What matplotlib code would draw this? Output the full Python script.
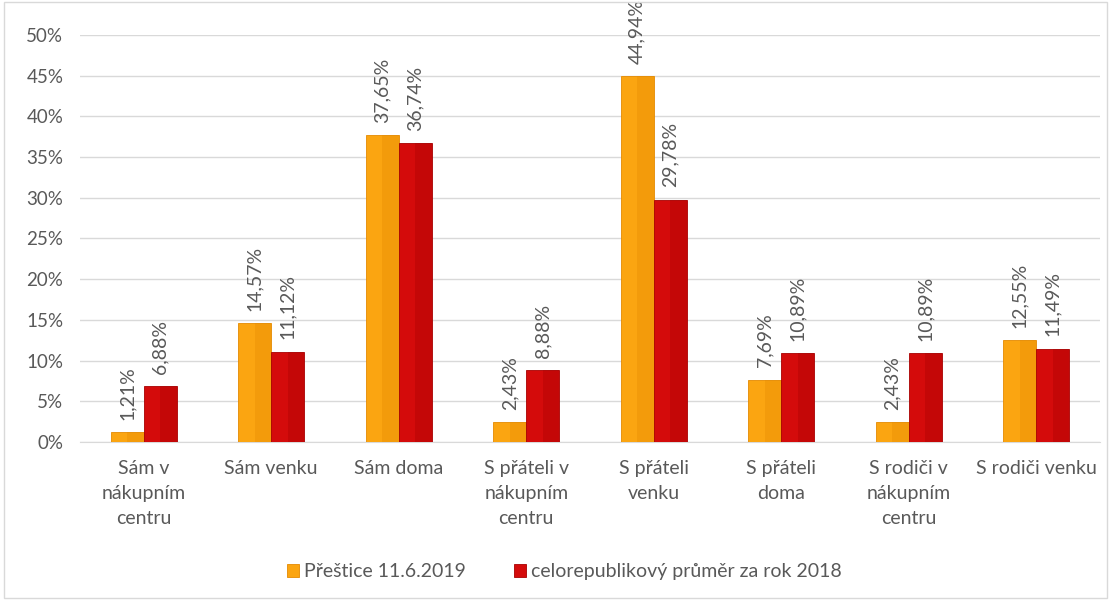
import numpy as np
import matplotlib
matplotlib.use("Agg")
import matplotlib.pyplot as plt
from matplotlib.patches import Rectangle

categories = ["Sám v\nnákupním\ncentru", "Sám venku", "Sám doma",
              "S přáteli v\nnákupním\ncentru", "S přáteli\nvenku", "S přáteli\ndoma",
              "S rodiči v\nnákupním\ncentru", "S rodiči venku"]
prestice = [1.21, 14.57, 37.65, 2.43, 44.94, 7.69, 2.43, 12.55]
celorep = [6.88, 11.12, 36.74, 8.88, 29.78, 10.89, 10.89, 11.49]
series_names = ["Přeštice 11.6.2019", "celorepublikový průměr za rok 2018"]

plt.rcParams["font.family"] = ["Lato", "DejaVu Sans"]
TXT = "#595959"

fig = plt.figure(figsize=(11.11, 6.0), dpi=100)
ax = fig.add_axes([0.072, 0.263, 0.918, 0.679])
fig.patches.append(Rectangle((0.004, 0.004), 0.992, 0.992, transform=fig.transFigure,
                             fill=False, ec="#D9D9D9", lw=1))

x = np.arange(len(categories))
w = 0.26
cols = [("#FBA511", "#E58A00"), ("#D40B0B", "#A80000")]
for k, (vals, (c, dark)) in enumerate(zip([prestice, celorep], cols)):
    xs = x + (k - 0.5) * w
    ax.bar(xs, vals, w, color=c, edgecolor=dark, lw=0.6, zorder=3, label=series_names[k])
    # darker right half for a bevelled look
    ax.bar(xs + w / 4, vals, w / 2, color=dark, alpha=0.35, lw=0, zorder=4)
    for xi, v in zip(xs, vals):
        ax.text(xi, v + 1.5, f"{v:.2f}%".replace(".", ","), rotation=90,
                ha="center", va="bottom", fontsize=14, color=TXT, zorder=5)

ax.set_xlim(-0.5, len(categories) - 0.5)
ax.set_ylim(0, 50)
ax.set_yticks(np.arange(0, 51, 5))
ax.set_yticklabels([f"{t}%" for t in range(0, 51, 5)], color=TXT, fontsize=13.5)
ax.set_xticks(x)
ax.set_xticklabels(categories, color=TXT, fontsize=14, va="top", linespacing=1.55)
ax.tick_params(axis="x", length=0, pad=13)
ax.tick_params(axis="y", length=0, pad=12)
ax.grid(axis="y", color="#D9D9D9", lw=1, zorder=0)
for s in ["top", "right", "left"]:
    ax.spines[s].set_visible(False)
ax.spines["bottom"].set_color("#D9D9D9")

leg = fig.legend(loc="center", bbox_to_anchor=(0.508, 0.047), ncol=2, frameon=False,
                 fontsize=14, handlelength=0.6, handleheight=0.7, columnspacing=2.5,
                 handletextpad=0.25)
for t in leg.get_texts():
    t.set_color(TXT)

fig.savefig("out.png", dpi=100)
